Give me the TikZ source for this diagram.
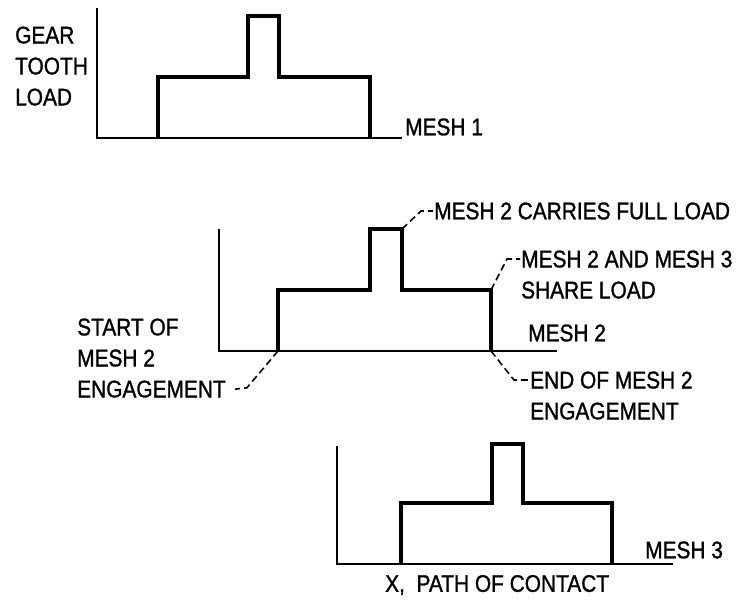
\documentclass[tikz,border=0pt]{standalone}
\usepackage{fontspec}
\setmainfont[FakeStretch=0.87, FakeBold=1.2]{Liberation Sans}
\usetikzlibrary{positioning}

\tikzset{
  axis/.style={line width=1.6pt},
  loadline/.style={line width=3.2pt, line join=miter},
  leader/.style={line width=1.6pt, dash pattern=on 7pt off 4pt},
  lbl/.style={font=\fontsize{24}{31}\selectfont, inner sep=0pt, align=left},
}

\begin{document}
\begin{tikzpicture}[x=1pt, y=-1pt]
\useasboundingbox (0,0) rectangle (747,607);

% Mesh 1
\draw[axis] (97,8) -- (97,138) -- (402,138);
\draw[loadline] (158,138) -- (158,77) -- (248,77) -- (248,16) -- (279,16) -- (279,77) -- (370,77) -- (370,138);
\node[lbl, anchor=north west] (gtl) at (15,26.4) {GEAR\\TOOTH\\LOAD};
\node[lbl, anchor=west] (mesh1) at (405,127) {MESH 1};

% Mesh 2
\draw[axis] (219,229) -- (219,351) -- (557,351);
\draw[loadline] (278,351) -- (278,290) -- (370,290) -- (370,229) -- (402,229) -- (402,290) -- (491,290) -- (491,351);
\coordinate (m2peak) at (402,229);
\coordinate (m2share) at (491,290);
\coordinate (m2start) at (278,351);
\coordinate (m2end) at (491,351);
\node[lbl, anchor=west] (mesh2) at (528,333) {MESH 2};
\node[lbl, anchor=west] (fullload) at (434,211) {MESH 2 CARRIES FULL LOAD};
\node[lbl, anchor=north west] (share) at (521,250.4) {MESH 2 AND MESH 3\\SHARE LOAD};
\node[lbl, anchor=north west] (start) at (77,318.4) {START OF\\MESH 2\\ENGAGEMENT};
\node[lbl, anchor=north west] (finish) at (530,371.4) {END OF MESH 2\\ENGAGEMENT};

% Leaders
\draw[leader] (m2peak) -- ([xshift=-13pt]fullload.west) -- ([xshift=-1pt]fullload.west);
\draw[leader] (m2share) -- ([xshift=-14pt,yshift=-8.6pt]share.north west) -- ([xshift=-1pt,yshift=-8.6pt]share.north west);
\draw[leader] (m2start) -- ([xshift=21pt,yshift=10pt]start.south east) -- ([xshift=9pt,yshift=8.6pt]start.south east);
\draw[leader] (m2end) -- ([xshift=-16pt,yshift=-8.6pt]finish.north west) -- ([xshift=-2pt,yshift=-8.6pt]finish.north west);

% Mesh 3
\draw[axis] (337,446) -- (337,564) -- (673,564);
\draw[loadline] (401,564) -- (401,503) -- (492,503) -- (492,444) -- (523,444) -- (523,503) -- (612,503) -- (612,564);
\node[lbl, anchor=west] (mesh3) at (645,550) {MESH 3};
\node[lbl, anchor=west] (path) at (385,585) {X,\ \ PATH OF CONTACT};

\end{tikzpicture}
\end{document}
